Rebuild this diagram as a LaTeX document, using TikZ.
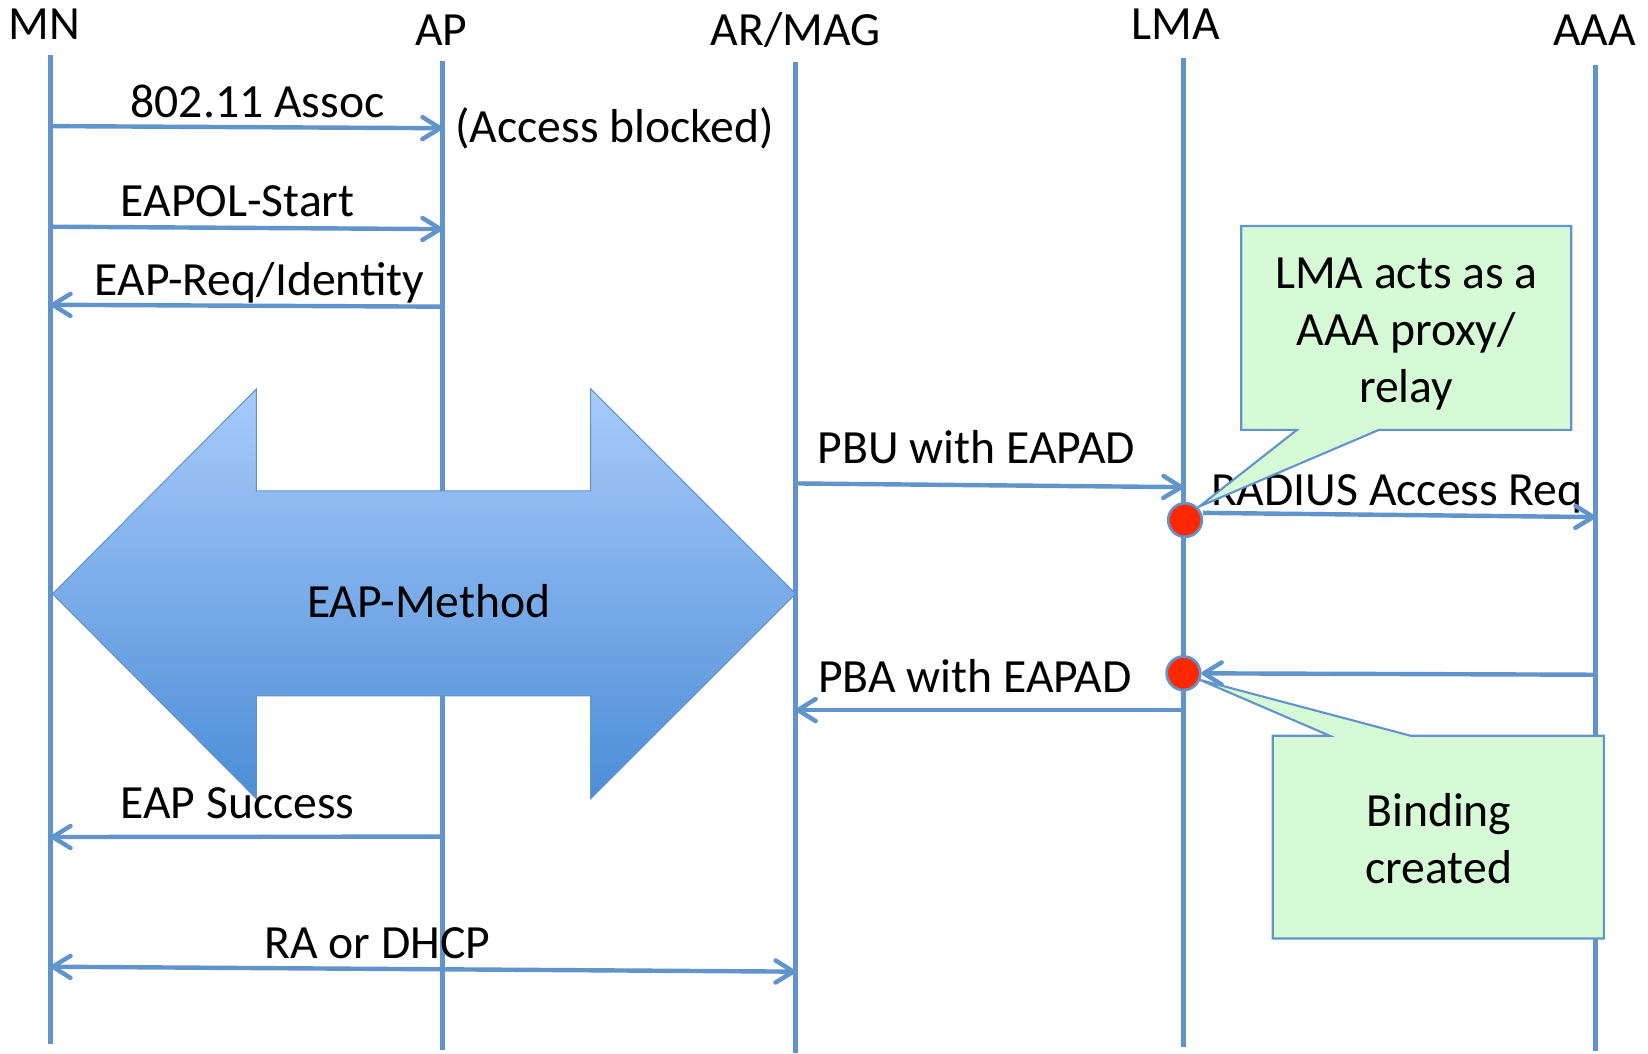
\documentclass[tikz,border=0pt]{standalone}
\usepackage{fontspec}
\setmainfont{Carlito}
\usetikzlibrary{arrows.meta}
\definecolor{lineblue}{RGB}{98,148,204}
\definecolor{dotred}{RGB}{255,40,0}
\definecolor{notegreen}{RGB}{213,250,213}
\definecolor{shadetop}{RGB}{168,203,252}
\definecolor{shadebot}{RGB}{76,141,214}
\begin{document}
\begin{tikzpicture}
[x=0.1mm, y=-0.1mm, font=\fontsize{12.9}{15.4}\selectfont,
 >={Straight Barb[length=1.7mm, width=2.1mm, round]},
 life/.style={lineblue, line width=0.42mm},
 msg/.style={lineblue, line width=0.42mm, ->},
 duplex/.style={lineblue, line width=0.42mm, <->},
 note/.style={draw=lineblue, line width=0.2mm, fill=notegreen},
 reddot/.style={circle, draw=lineblue, line width=0.25mm, fill=dotred, minimum size=3.2mm, inner sep=0pt},
 lbl/.style={anchor=base, inner sep=0pt}]
\path[use as bounding box, fill=white] (0,0) rectangle (1568,1002);

\node (mn) at (42,37.5) [lbl] {MN};
\node (ap) at (420,43) [lbl] {AP};
\node (mag) at (757,43) [lbl] {AR/MAG};
\node (lma) at (1119,37.5) [lbl] {LMA};
\node (aaa) at (1517,43) [lbl] {AAA};

\coordinate (mn-top) at (48,52);    \coordinate (mn-bot) at (48,993);
\coordinate (ap-top) at (421,58);   \coordinate (ap-bot) at (421,999);
\coordinate (mag-top) at (757,59);  \coordinate (mag-bot) at (757,1002);
\coordinate (lma-top) at (1126,55); \coordinate (lma-bot) at (1126,996);
\coordinate (aaa-top) at (1518,62); \coordinate (aaa-bot) at (1518,1000);
\foreach \e in {mn,ap,mag,lma,aaa}
  \draw[life] (\e-top) -- (\e-bot);

% EAP exchange between MN and AR/MAG
\path[draw=lineblue, line width=0.1mm, top color=shadetop, bottom color=shadebot]
  (50,565) -- (244,370) -- (244,467) -- (562,467) -- (562,370) -- (757,565)
  -- (562,760) -- (562,662) -- (244,662) -- (244,760) -- cycle;
\node (method) at (408,588) [lbl] {EAP-Method};

\node (assoc) at (245,111.5) [lbl] {802.11 Assoc};
\node (blocked) at (585,136) [lbl] {(Access blocked)};
\node (start) at (226,206) [lbl] {EAPOL-Start};
\node (ident) at (247,281) [lbl] {EAP-Req/Identity};
\node (pbu) at (929,441) [lbl] {PBU with EAPAD};
\node (radius) at (1329,480.5) [lbl] {RADIUS Access Req};
\node (pba) at (927.5,659) [lbl] {PBA with EAPAD};
\node (success) at (226,778.6) [lbl] {EAP Success};
\node (dhcp) at (359,911.6) [lbl] {RA or DHCP};

% callouts
\path[note] (1181,215) -- (1495,215) -- (1495,409) -- (1312,409) -- (1141,482)
  -- (1234,409) -- (1181,409) -- cycle;
\node (proxy) at (1338,383) [lbl, align=center] {LMA acts as a\\AAA proxy/\\relay};
\path[note] (1211,700) -- (1265,700) -- (1142,647) -- (1342,700) -- (1526,700)
  -- (1526,893) -- (1211,893) -- cycle;
\node (binding) at (1369,840.5) [lbl, align=center] {Binding\\created};

\node (hit1) at (1127.5,494.8) [reddot] {};
\node (hit2) at (1126,640.6) [reddot] {};

\draw[msg] (mn-top |- 0,120) -- (ap-top |- 0,122);
\draw[msg] (mn-top |- 0,215.7) -- (ap-top |- 0,218);
\draw[msg] (ap-top |- 0,291.8) -- (mn-top |- 0,290);
\draw[msg] (mag-top |- 0,460) -- (lma-top |- 0,463.5);
\draw[msg] (hit1.east |- 0,488) -- (aaa-top |- 0,492);
\draw[msg] (aaa-top |- 0,642) -- (hit2);
\draw[msg] (lma-top |- 0,675.6) -- (mag-top |- 0,675.6);
\draw[msg] (ap-top |- 0,796) -- (mn-top |- 0,796.4);
\draw[duplex] (mn-top |- 0,919.8) -- (mag-top |- 0,924.5);
\end{tikzpicture}
\end{document}
